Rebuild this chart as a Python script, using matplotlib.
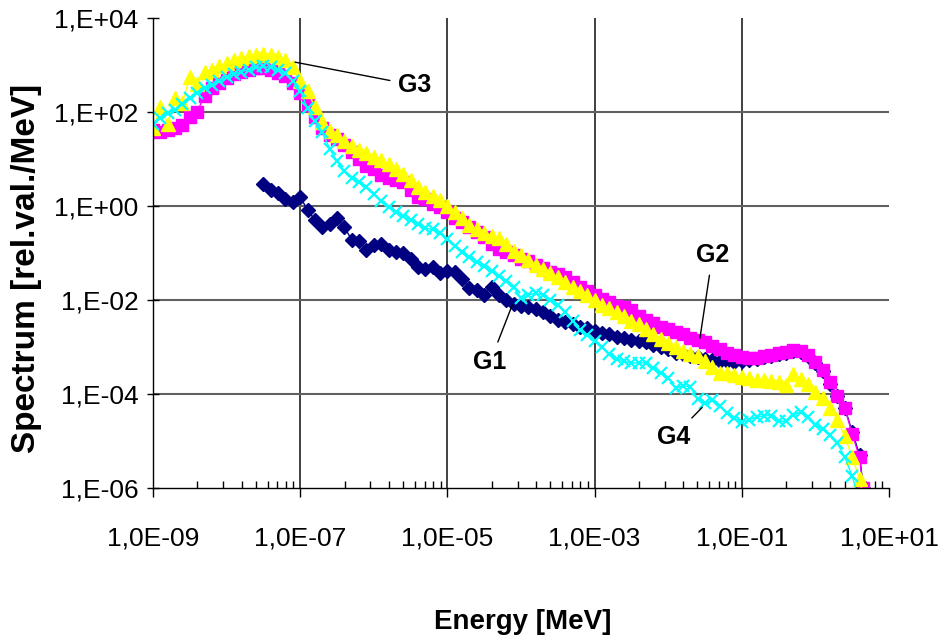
import numpy as np
from matplotlib import pyplot as plt
from matplotlib import font_manager
from matplotlib.ticker import FixedLocator, NullFormatter

# energy grid, read as log10(E / MeV)
log_energy = [-9.0, -8.9, -8.8, -8.7, -8.6, -8.5, -8.4, -8.3, -8.2, -8.1,
              -8.0, -7.9, -7.8, -7.7, -7.6, -7.5, -7.4, -7.3, -7.2, -7.1,
              -7.0, -6.9, -6.8, -6.7, -6.6, -6.5, -6.4, -6.3, -6.2, -6.1,
              -6.0, -5.9, -5.8, -5.7, -5.6, -5.5, -5.4, -5.3, -5.2, -5.1,
              -5.0, -4.9, -4.8, -4.7, -4.6, -4.5, -4.4, -4.3, -4.2, -4.1,
              -4.0, -3.9, -3.8, -3.7, -3.6, -3.5, -3.4, -3.3, -3.2, -3.1,
              -3.0, -2.9, -2.8, -2.7, -2.6, -2.5, -2.4, -2.3, -2.2, -2.1,
              -2.0, -1.9, -1.8, -1.7, -1.6, -1.5, -1.4, -1.3, -1.2, -1.1,
              -1.0, -0.9, -0.8, -0.7, -0.6, -0.5, -0.4, -0.3, -0.2, -0.1,
              0.0, 0.1, 0.2, 0.3, 0.4, 0.5, 0.6, 0.65]

# spectra, read as log10(rel.val./MeV); None = no point
log_g1 = [None, None, None, None, None, None, None, None, None, None,
          None, None, None, None, None, 0.47, 0.35, 0.28, 0.15, 0.09,
          0.19, -0.08, -0.30, -0.45, -0.38, -0.26, -0.45, -0.72, -0.75, -0.94,
          -0.82, -0.80, -0.94, -0.98, -1.00, -1.12, -1.30, -1.33, -1.30, -1.43,
          -1.38, -1.40, -1.55, -1.75, -1.79, -1.89, -1.72, -1.90, -2.00, -2.08,
          -2.12, -2.15, -2.20, -2.25, -2.35, -2.42, -2.47, -2.52, -2.57, -2.60,
          -2.65, -2.70, -2.73, -2.78, -2.80, -2.85, -2.88, -2.90, -2.95, -3.00,
          -3.05, -3.12, -3.15, -3.20, -3.22, -3.25, -3.28, -3.30, -3.30, -3.32,
          -3.30, -3.27, -3.25, -3.22, -3.19, -3.15, -3.12, -3.08, -3.10, -3.20,
          -3.35, -3.52, -3.78, -4.05, -4.30, -4.80, -5.30, -6.00]

log_g2 = [1.62, 1.58, 1.62, 1.65, 1.72, 1.90, 2.00, 2.35, 2.50, 2.62,
          2.72, 2.80, 2.85, 2.90, 2.93, 2.94, 2.90, 2.83, 2.76, 2.62,
          2.40, 2.15, 1.90, 1.65, 1.52, 1.42, 1.30, 1.15, 1.00, 0.85,
          0.78, 0.65, 0.60, 0.55, 0.50, 0.35, 0.20, 0.15, 0.05, -0.03,
          -0.12, -0.25, -0.35, -0.45, -0.55, -0.66, -0.80, -0.92, -0.98, -1.05,
          -1.12, -1.18, -1.25, -1.32, -1.40, -1.45, -1.52, -1.62, -1.72, -1.80,
          -1.90, -1.98, -2.05, -2.12, -2.15, -2.22, -2.35, -2.43, -2.50, -2.58,
          -2.62, -2.68, -2.73, -2.80, -2.85, -2.90, -2.97, -3.05, -3.12, -3.18,
          -3.22, -3.24, -3.23, -3.20, -3.18, -3.13, -3.10, -3.06, -3.08, -3.18,
          -3.32, -3.50, -3.75, -4.05, -4.30, -4.85, -5.35, -6.00]

log_g3 = [1.65, 2.10, 1.75, 2.30, 2.20, 2.75, 2.60, 2.85, 2.90, 2.98,
          3.05, 3.10, 3.15, 3.20, 3.22, 3.23, 3.22, 3.18, 3.10, 2.95,
          2.65, 2.45, 2.10, 1.78, 1.60, 1.50, 1.38, 1.28, 1.20, 1.12,
          1.05, 0.98, 0.90, 0.78, 0.68, 0.55, 0.40, 0.30, 0.22, 0.12,
          0.00, -0.12, -0.25, -0.40, -0.50, -0.58, -0.63, -0.68, -0.80, -0.95,
          -1.05, -1.15, -1.25, -1.35, -1.43, -1.52, -1.62, -1.72, -1.80, -1.90,
          -2.00, -2.10, -2.18, -2.25, -2.35, -2.45, -2.52, -2.62, -2.72, -2.82,
          -2.92, -3.00, -3.08, -3.15, -3.20, -3.30, -3.42, -3.55, -3.55, -3.60,
          -3.64, -3.67, -3.70, -3.70, -3.72, -3.74, -3.80, -3.58, -3.68, -3.78,
          -3.95, -4.09, -4.30, -4.55, -4.90, -5.35, -5.80, -6.20]

log_g4 = [1.75, 1.88, 1.98, 2.05, 2.18, 2.30, 2.40, 2.50, 2.58, 2.66,
          2.74, 2.80, 2.86, 2.90, 2.95, 2.97, 2.95, 2.90, 2.82, 2.66,
          2.45, 2.08, 1.80, 1.57, 1.22, 0.95, 0.74, 0.60, 0.50, 0.40,
          0.25, 0.10, -0.02, -0.12, -0.22, -0.30, -0.38, -0.47, -0.50, -0.57,
          -0.70, -0.85, -0.97, -1.08, -1.19, -1.28, -1.38, -1.50, -1.60, -1.73,
          -1.95, -1.90, -1.85, -1.90, -2.00, -2.10, -2.25, -2.45, -2.63, -2.75,
          -2.88, -3.00, -3.15, -3.25, -3.30, -3.35, -3.33, -3.35, -3.45, -3.55,
          -3.65, -3.88, -3.82, -3.85, -4.10, -4.20, -4.13, -4.25, -4.40, -4.52,
          -4.60, -4.55, -4.49, -4.46, -4.46, -4.58, -4.58, -4.45, -4.38, -4.50,
          -4.65, -4.75, -4.87, -5.05, -5.35, -5.75, -6.30, -6.60]

series_names = ['G1', 'G2', 'G3', 'G4']
series_colors = ['#000080', '#FF00FF', '#FFFF00', '#00FFFF']
series_markers = ['D', 's', '^', 'x']

x_ticks = [1e-9, 1e-7, 1e-5, 1e-3, 1e-1, 1e1]
x_ticklabels = ['1,0E-09', '1,0E-07', '1,0E-05', '1,0E-03', '1,0E-01', '1,0E+01']
y_ticks = [1e-6, 1e-4, 1e-2, 1e0, 1e2, 1e4]
y_ticklabels = ['1,E-06', '1,E-04', '1,E-02', '1,E+00', '1,E+02', '1,E+04']

# label text, anchor point on curve (E, y), text position (E, y)
labels = {
    'G3': ((8.5e-8, 1.15e3), (3.6e-6, 3.7e2)),
    'G2': ((2.7e-2, 1.55e-3), (4.0e-2, 9.1e-2)),
    'G1': ((7.6e-5, 7.8e-3), (3.8e-5, 4.8e-4)),
    'G4': ((2.9e-2, 5.2e-5), (1.18e-2, 1.23e-5)),
}


def font_or(fam, fallback):
    try:
        font_manager.findfont(font_manager.FontProperties(family=fam), fallback_to_default=False)
        return fam
    except ValueError:
        return fallback


base_font = font_or('Liberation Sans', 'DejaVu Sans')
plt.rcParams['font.family'] = base_font

fig = plt.figure(figsize=(9.4, 6.41), dpi=100)
ax = fig.add_axes([153 / 940, 1 - 488 / 641, 736 / 940, 470 / 641])

energy = 10.0 ** np.array(log_energy)
marker_sizes = {'D': 7, 's': 8.5, '^': 9.5, 'x': 8.5}
for name, vals, col, mk in zip(series_names, [log_g1, log_g2, log_g3, log_g4],
                               series_colors, series_markers):
    y = np.array([np.nan if v is None else 10.0 ** v for v in vals])
    if mk == 'x':
        ax.plot(energy, y, color=col, lw=1, marker=mk, ms=marker_sizes[mk], mew=1.6)
    else:
        ax.plot(energy, y, color=col, lw=1, marker=mk, ms=marker_sizes[mk],
                mec=col, mfc=col)

ax.set_xscale('log')
ax.set_yscale('log')
ax.set_xlim(1e-9, 1e1)
ax.set_ylim(1e-6, 1e4)

ax.xaxis.set_major_locator(FixedLocator(x_ticks))
ax.set_xticklabels(x_ticklabels, fontsize=19)
# Excel's odd minor ticks: base * k^2 inside each 2-decade block
minor = [b * k * k for b in x_ticks[:-1] for k in range(2, 10)]
ax.xaxis.set_minor_locator(FixedLocator(minor))
ax.xaxis.set_minor_formatter(NullFormatter())
ax.yaxis.set_major_locator(FixedLocator(y_ticks))
ax.yaxis.set_minor_locator(FixedLocator([]))
ax.set_yticklabels(y_ticklabels, fontsize=19)

ax.tick_params(axis='x', which='major', direction='out', length=6.5, width=1, pad=21)
ax.tick_params(axis='x', which='minor', direction='in', length=5, width=1)
ax.tick_params(axis='y', which='major', direction='inout', length=9, width=1, pad=6)

for s in ['top', 'right']:
    ax.spines[s].set_visible(False)
for s in ['left', 'bottom']:
    ax.spines[s].set_linewidth(1)
    ax.spines[s].set_zorder(5)

for xv in x_ticks[1:-1]:
    ax.axvline(xv, color='#202020', lw=1.2, zorder=0)
for yv in y_ticks[1:-1]:
    ax.axhline(yv, color='#606060', lw=1.5, zorder=0)

for name, (pt, txt) in labels.items():
    ax.annotate(name, xy=pt, xytext=txt, ha='center', va='center',
                fontsize=18, fontweight='bold',
                arrowprops=dict(arrowstyle='-', color='black', lw=1,
                                shrinkA=4, shrinkB=0))

fig.text(27 / 940, 1 - 268 / 641, 'Spectrum [rel.val./MeV]', rotation=90,
         ha='center', va='center', fontsize=24, fontweight='bold')
fig.text(523 / 940, 1 - 622 / 641, 'Energy [MeV]', ha='center', va='center',
         fontsize=20, fontweight='bold')

fig.savefig('out.png', dpi=100)
